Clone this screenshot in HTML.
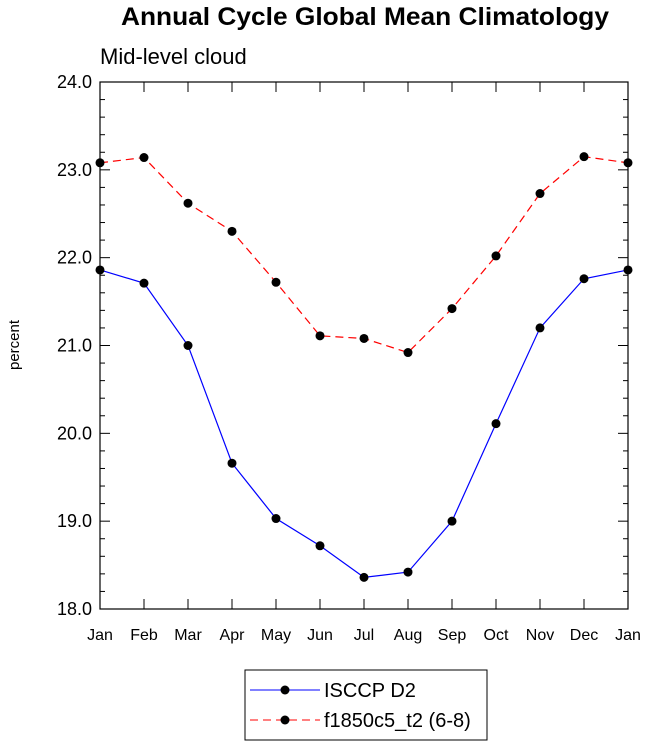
<!DOCTYPE html>
<html><head><meta charset="utf-8"><style>body{margin:0;background:#fff}svg{display:block}</style></head>
<body>
<svg id="chart" width="648" height="747" viewBox="0 0 648 747" xmlns="http://www.w3.org/2000/svg" font-family="Liberation Sans, sans-serif">
<text x="365" y="25" text-anchor="middle" font-size="25" font-weight="bold" textLength="488" lengthAdjust="spacingAndGlyphs">Annual Cycle Global Mean Climatology</text>
<text x="100" y="64" font-size="22">Mid-level cloud</text>
<text transform="translate(19,345) rotate(-90)" text-anchor="middle" font-size="15">percent</text>
<g id="axes"></g><g id="series"></g>
<g>
<rect x="245" y="670" width="242" height="70" fill="#fff" stroke="#000"/>
<g><line x1="250" y1="690" x2="320" y2="690" stroke="#00f"/><circle cx="285" cy="690" r="4.5"/><text x="324" y="697" font-size="20">ISCCP D2</text></g>
<g><line x1="250" y1="720" x2="320" y2="720" stroke="#f00" stroke-dasharray="8,5"/><circle cx="285" cy="720" r="4.5"/><text x="324" y="727" font-size="20">f1850c5_t2 (6-8)</text></g>
</g>
</svg>
<script>
const months=["Jan","Feb","Mar","Apr","May","Jun","Jul","Aug","Sep","Oct","Nov","Dec","Jan"];
const isccp=[21.86,21.71,21.00,19.66,19.03,18.72,18.36,18.42,19.00,20.11,21.20,21.76,21.86];
const model=[23.08,23.14,22.62,22.30,21.72,21.11,21.08,20.92,21.42,22.02,22.73,23.15,23.08];
const yTicks=[18,19,20,21,22,23,24];
const NS="http://www.w3.org/2000/svg";
const L=100,R=628,T=82,B=609,ymin=18,ymax=24;
const xs=i=>L+(R-L)*i/(months.length-1);
const ys=v=>B-(v-ymin)/(ymax-ymin)*(B-T);
function mk(t,a,p){const e=document.createElementNS(NS,t);for(const k in a)e.setAttribute(k,a[k]);p.appendChild(e);return e;}
const ax=document.getElementById('axes');
const fr=mk('rect',{x:L,y:T,width:R-L,height:B-T,fill:'none',stroke:'#000','stroke-width':1.2},ax);


for(let v=ymin;v<=ymax+1e-9;v+=0.2){
 const y=ys(v);const major=Math.abs(v-Math.round(v))<1e-6;const len=major?10:5;
 mk('line',{x1:L,y1:y,x2:L+len,y2:y,stroke:'#000'},ax);
 mk('line',{x1:R,y1:y,x2:R-len,y2:y,stroke:'#000'},ax);
}
yTicks.forEach(v=>{const t=mk('text',{x:L-8,y:ys(v)+6,'text-anchor':'end','font-size':18},ax);t.textContent=v.toFixed(1);

});
months.forEach((m,i)=>{const x=xs(i);
 mk('line',{x1:x,y1:B,x2:x,y2:B-10,stroke:'#000'},ax);mk('line',{x1:x,y1:T,x2:x,y2:T+10,stroke:'#000'},ax);
 const t=mk('text',{x:x,y:B+31,'text-anchor':'middle','font-size':16},ax);t.textContent=m;
 
 });
const sg=document.getElementById('series');
function draw(vals,color,dash,name){
 const g=mk('g',{},sg);
 
 
 const a={points:vals.map((v,i)=>xs(i)+','+ys(v)).join(' '),fill:'none',stroke:color,'stroke-width':1.2};
 if(dash)a['stroke-dasharray']=dash;
 mk('polyline',a,g);
 vals.forEach((v,i)=>{const c=mk('circle',{cx:xs(i),cy:ys(v),r:4.5,fill:'#000'},g);
 
 });
}
draw(isccp,'#00f',null,'series-isccp');
draw(model,'#f00','8,5','series-model');
</script>
</body></html>
